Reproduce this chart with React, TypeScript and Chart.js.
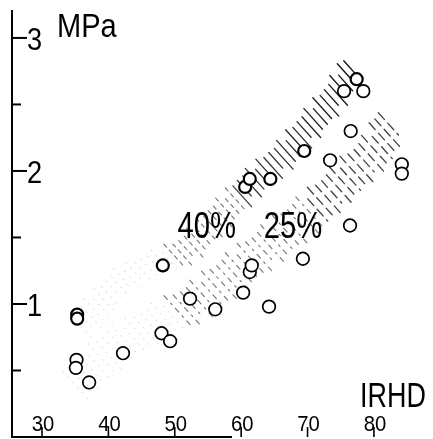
import React, { useEffect, useRef } from "react";
import { Chart, registerables } from "chart.js";

Chart.register(...registerables);

// ---- data ----
const xTickValues = [30, 40, 50, 60, 70, 80];
const xTickLabels = ["30", "40", "50", "60", "70", "80"];
const yMajorTicks = [1, 2, 3];
const yMajorLabels = ["1", "2", "3"];
const yMinorTicks = [0.5, 1.5, 2.5];

// double circles (40 %)
const ring40X = [35.3, 35.3, 48.2, 60.6, 61.3, 64.4, 69.5, 77.4];
const ring40Y = [0.92, 0.89, 1.29, 1.88, 1.94, 1.94, 2.15, 2.69];

// single circles (25 %)
const open25X = [35.2, 35.1, 37.1, 42.2, 48.0, 49.3, 52.3, 56.1, 60.3, 61.3, 61.6, 64.2, 69.3, 76.4, 73.4, 76.5, 75.5, 78.4, 84.2, 84.2];
const open25Y = [0.58, 0.52, 0.41, 0.63, 0.78, 0.72, 1.04, 0.96, 1.085, 1.24, 1.29, 0.98, 1.34, 1.59, 2.08, 2.3, 2.6, 2.6, 2.05, 1.98];

// hatched band centre lines
const band40X = [35.7, 42.5, 52.0, 61.3, 66.6, 74.1, 76.9];
const band40Y = [0.84, 1.18, 1.41, 1.89, 2.12, 2.56, 2.78];
const band25X = [35.0, 41.7, 53.8, 61.3, 71.9, 80.9, 82.7];
const band25Y = [0.39, 0.69, 1.03, 1.32, 1.74, 2.17, 2.38];

const bandLabels = ["40%", "25%"];
const bandLabelX = [54.8, 67.8];
const bandLabelY = [1.59, 1.59];

const xAxisTitle = "IRHD";
const yAxisTitle = "MPa";

const X_MIN = 25.48;
const X_MAX = 88.9;
const Y_MIN = 0;
const Y_MAX = 3.21;

const FONT = '"Liberation Sans", Arial, sans-serif';

function scaledText(ctx: CanvasRenderingContext2D, text: string, px: number, py: number, size: number, sx: number, align: CanvasTextAlign) {
  ctx.save();
  ctx.font = `${size}px ${FONT}`;
  ctx.translate(px, py);
  ctx.scale(sx, 1);
  ctx.textAlign = align;
  ctx.textBaseline = "alphabetic";
  ctx.fillStyle = "#000";
  ctx.fillText(text, 0, 0);
  ctx.restore();
}

function drawBand(
  ctx: CanvasRenderingContext2D,
  xs: any,
  ys: any,
  bx: number[],
  by: number[],
  halfLen: number,
  spacing: number,
  style: (t: number) => { alpha: number; dash: number[]; width: number }
) {
  const pts = bx.map((v, i) => ({ x: xs.getPixelForValue(v), y: ys.getPixelForValue(by[i]) }));
  const lens: number[] = [];
  let total = 0;
  for (let i = 0; i < pts.length - 1; i++) {
    const l = Math.hypot(pts[i + 1].x - pts[i].x, pts[i + 1].y - pts[i].y);
    lens.push(l);
    total += l;
  }
  const ang = (48 * Math.PI) / 180;
  const dx = Math.cos(ang);
  const dy = Math.sin(ang);
  ctx.save();
  ctx.strokeStyle = "#000";
  ctx.lineCap = "round";
  let k = 0;
  for (let s = 0; s <= total; s += spacing, k++) {
    let acc = 0;
    let seg = 0;
    while (seg < lens.length - 1 && acc + lens[seg] < s) {
      acc += lens[seg];
      seg++;
    }
    const f = lens[seg] ? (s - acc) / lens[seg] : 0;
    const px = pts[seg].x + (pts[seg + 1].x - pts[seg].x) * f;
    const py = pts[seg].y + (pts[seg + 1].y - pts[seg].y) * f;
    const t = s / total;
    const st = style(t);
    const hl = halfLen * (k % 3 === 1 ? 0.75 : 1);
    const shift = k % 2 === 0 ? 2 : -2;
    ctx.globalAlpha = st.alpha;
    ctx.lineWidth = st.width;
    ctx.setLineDash(st.dash);
    ctx.beginPath();
    ctx.moveTo(px - dx * (hl - shift), py - dy * (hl - shift));
    ctx.lineTo(px + dx * (hl + shift), py + dy * (hl + shift));
    ctx.stroke();
  }
  ctx.restore();
}

const decorPlugin = {
  id: "decor",
  beforeDatasetsDraw(chart: any) {
    const ctx: CanvasRenderingContext2D = chart.ctx;
    const xs = chart.scales.x;
    const ys = chart.scales.y;
    // upper band (40 %)
    drawBand(ctx, xs, ys, band40X, band40Y, 14, 7, (t) => {
      if (t < 0.3) return { alpha: 0.2, dash: [1, 6], width: 1 };
      if (t < 0.55) return { alpha: 0.55, dash: [4, 4], width: 1.1 };
      return { alpha: 0.5 + 0.45 * t, dash: [], width: 1.3 };
    });
    // lower band (25 %)
    drawBand(ctx, xs, ys, band25X, band25Y, 20, 7.5, (t) => {
      if (t < 0.3) return { alpha: 0.18, dash: [1, 6], width: 1 };
      if (t < 0.7) return { alpha: 0.55, dash: [5, 5, 2, 5], width: 1.1 };
      return { alpha: 0.75, dash: [9, 5], width: 1.3 };
    });
    // band labels
    for (let i = 0; i < bandLabels.length; i++) {
      const px = xs.getPixelForValue(bandLabelX[i]);
      const py = ys.getPixelForValue(bandLabelY[i]);
      scaledText(ctx, bandLabels[i], px, py + 13, 37, 0.79, "center");
    }
  },
  afterDatasetsDraw(chart: any) {
    const ctx: CanvasRenderingContext2D = chart.ctx;
    const xs = chart.scales.x;
    const ys = chart.scales.y;
    const left = xs.getPixelForValue(X_MIN);
    const bottom = ys.getPixelForValue(Y_MIN);
    const top = ys.getPixelForValue(Y_MAX);
    ctx.save();
    ctx.strokeStyle = "#000";
    ctx.lineWidth = 2;
    ctx.lineCap = "butt";
    // axes
    ctx.beginPath();
    ctx.moveTo(left, top);
    ctx.lineTo(left, bottom);
    ctx.lineTo(232, bottom);
    ctx.stroke();
    // y ticks
    yMajorTicks.forEach((v, i) => {
      const py = ys.getPixelForValue(v);
      ctx.beginPath();
      ctx.moveTo(left, py);
      ctx.lineTo(left + 15, py);
      ctx.stroke();
      scaledText(ctx, yMajorLabels[i], left + 15, py + 12, 32, 0.85, "left");
    });
    yMinorTicks.forEach((v) => {
      const py = ys.getPixelForValue(v);
      ctx.beginPath();
      ctx.moveTo(left, py);
      ctx.lineTo(left + 9, py);
      ctx.stroke();
    });
    // x ticks
    xTickValues.forEach((v, i) => {
      const px = xs.getPixelForValue(v);
      scaledText(ctx, xTickLabels[i], px + 1, bottom - 6, 22, 0.92, "center");
      ctx.lineWidth = 1.6;
      ctx.beginPath();
      ctx.moveTo(px, bottom);
      ctx.lineTo(px, bottom - 10);
      ctx.stroke();
    });
    ctx.restore();
    // titles
    scaledText(ctx, yAxisTitle, 57, 37, 33, 0.88, "left");
    scaledText(ctx, xAxisTitle, 360, 407, 35, 0.77, "left");
  },
};

export default function App() {
  const canvasRef = useRef<HTMLCanvasElement | null>(null);

  useEffect(() => {
    if (!canvasRef.current) return;
    const ringData = ring40X.map((x, i) => ({ x, y: ring40Y[i] }));
    const openData = open25X.map((x, i) => ({ x, y: open25Y[i] }));
    const chart = new Chart(canvasRef.current, {
      type: "scatter",
      data: {
        datasets: [
          {
            label: "25%",
            data: openData,
            pointStyle: "circle",
            pointRadius: 6.3,
            borderWidth: 1.7,
            borderColor: "#000",
            backgroundColor: "#fff",
          },
          {
            label: "40% outer",
            data: ringData,
            pointStyle: "circle",
            pointRadius: 6,
            borderWidth: 2.2,
            borderColor: "#000",
            backgroundColor: "#fff",
          },
          {
            label: "40% inner",
            data: ringData,
            pointStyle: "circle",
            pointRadius: 2.4,
            borderWidth: 1.8,
            borderColor: "#000",
            backgroundColor: "#fff",
          },
        ],
      },
      options: {
        responsive: false,
        animation: false,
        devicePixelRatio: 1,
        layout: { autoPadding: false, padding: { left: 12, top: 10, right: 0, bottom: 2 } },
        plugins: { legend: { display: false }, tooltip: { enabled: false } },
        scales: {
          x: { type: "linear", min: X_MIN, max: X_MAX, display: false },
          y: { type: "linear", min: Y_MIN, max: Y_MAX, display: false },
        },
      },
      plugins: [decorPlugin],
    });
    return () => chart.destroy();
  }, []);

  return (
    <div style={{ position: "fixed", left: 0, top: 0, width: 433, height: 439, background: "#fff" }}>
      <canvas ref={canvasRef} width={433} height={439} style={{ display: "block" }} />
    </div>
  );
}
